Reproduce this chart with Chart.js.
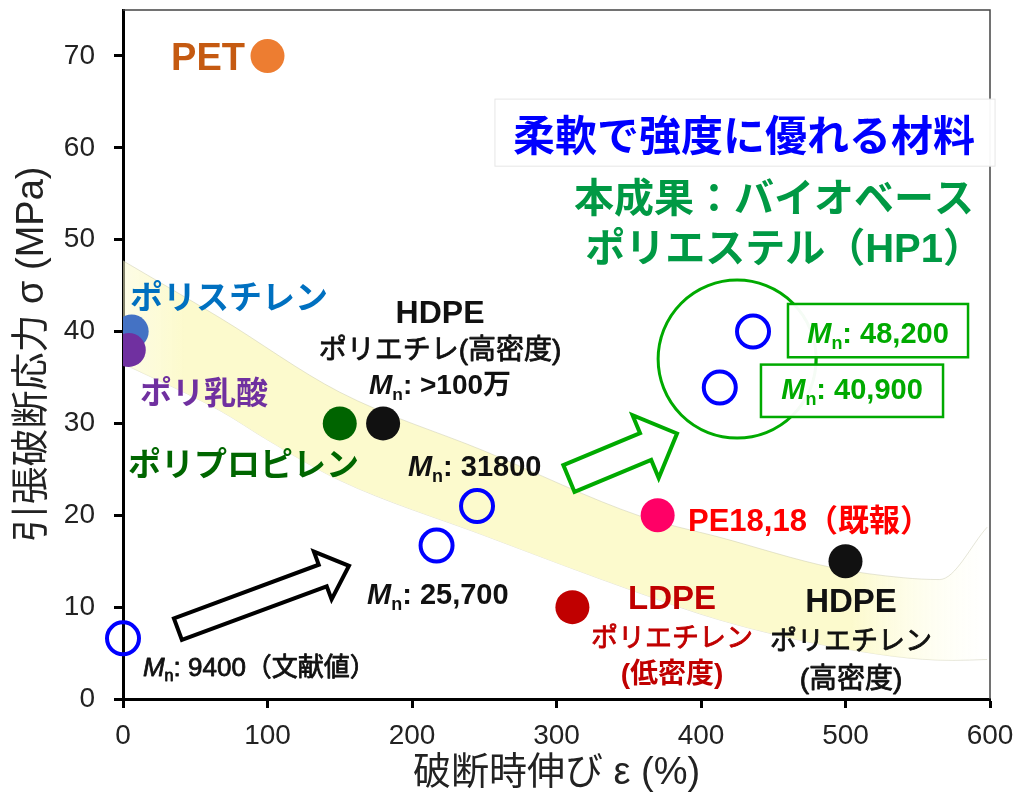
<!DOCTYPE html>
<html lang="ja">
<head>
<meta charset="utf-8">
<title>引張破断応力と破断時伸び</title>
<script src="https://cdn.jsdelivr.net/npm/chart.js@4.4.1/dist/chart.umd.min.js"></script>
<style>
  html, body { margin: 0; padding: 0; background: #fff; }
  #wrap { width: 1019px; height: 798px; position: relative; }
</style>
</head>
<body>
<div id="wrap"><canvas id="stressChart"></canvas></div>
<script>
const FONT = '"Liberation Sans", "Noto Sans CJK JP", sans-serif';

// tick values
const xTicks = [0, 100, 200, 300, 400, 500, 600];
const yTicks = [0, 10, 20, 30, 40, 50, 60, 70];

// reference materials (filled circles)
const materials = ['PET', 'ポリスチレン', 'ポリ乳酸', 'ポリプロピレン', 'HDPE (Mn >100万)', 'PE18,18', 'LDPE', 'HDPE'];
const matElongation = [100, 6, 4, 150, 180, 370, 311, 500];
const matStrength = [70, 40, 38, 30, 30, 20, 10, 15];
const matColors = ['#ed7d31', '#4472c4', '#7030a0', '#006400', '#111111', '#ff0066', '#c00000', '#111111'];

// HP1 bio-based polyester (open circles)
const hp1Mn = ['9400', '25,700', '31800', '40,900', '48,200'];
const hp1Elongation = [0, 217, 245, 413, 436];
const hp1Strength = [6.6, 16.7, 21.0, 33.9, 40.0];

// green ring round the two best samples
const groupCenter = [{ x: 425, y: 37 }];

// yellow trend band
const bandUpperX = [0, 67, 150, 250, 358, 413, 491, 540, 565, 598];
const bandUpperY = [47.7, 41.5, 33.4, 27.0, 19.9, 17.6, 14.3, 13.2, 13.0, 18.7];
const bandLowerX = [0, 67, 100, 150, 250, 358, 413, 491, 574, 598];
const bandLowerY = [36.5, 31.4, 28.2, 23.8, 17.8, 11.5, 8.6, 5.7, 4.2, 4.3];

const toPts = (xs, ys) => xs.map((x, i) => ({ x: x, y: ys[i] }));

// annotations: text runs placed at data coordinates ('med' = regular + thin stroke)
const M = (rest) => [{ t: 'M', i: true }, { t: 'n', s: true }, { t: rest }];
const notes = [
  { runs: [{ t: 'PET' }], x: 84.4, y: 70, size: 38, w: 'bold', c: '#c55a11', a: 'right' },
  { runs: [{ t: 'ポリスチレン' }], x: 4.8, y: 43.7, size: 33, w: 'bold', c: '#0070c0', a: 'left' },
  { runs: [{ t: 'ポリ乳酸' }], x: 11.8, y: 33.4, size: 32, w: 'bold', c: '#7030a0', a: 'left' },
  { runs: [{ t: 'ポリプロピレン' }], x: 3.5, y: 25.6, size: 33, w: 'bold', c: '#006600', a: 'left' },
  { runs: [{ t: 'HDPE' }], x: 219.4, y: 42.2, size: 32, w: 'bold', c: '#111', a: 'center' },
  { runs: [{ t: 'ポリエチレ(高密度)' }], x: 219.4, y: 38.1, size: 28, w: 'med', c: '#111', a: 'center' },
  { runs: M(': >100万'), x: 219.4, y: 34.3, size: 28, w: 'bold', c: '#111', a: 'center' },
  { runs: M(': ' + hp1Mn[2]), x: 197.2, y: 25.4, size: 29, w: 'bold', c: '#111', a: 'left' },
  { runs: M(': ' + hp1Mn[1]), x: 168.9, y: 11.5, size: 29, w: 'bold', c: '#111', a: 'left' },
  { runs: M(': ' + hp1Mn[0] + '（文献値）'), x: 13.8, y: 3.5, size: 26, w: 'med', c: '#111', a: 'left' },
  { runs: [{ t: '柔軟で強度に優れる材料' }], x: 429.8, y: 61.3, size: 42, w: 'bold', c: '#0000ff', a: 'center' },
  { runs: [{ t: '本成果：バイオベース' }], x: 450.5, y: 54.6, size: 40, w: 'bold', c: '#009944', a: 'center' },
  { runs: [{ t: 'ポリエステル（HP1）' }], x: 457.5, y: 49.1, size: 40, w: 'bold', c: '#009944', a: 'center' },
  { runs: [{ t: 'PE18,18（既報）' }], x: 391, y: 19.5, size: 31, w: 'bold', c: '#ff0000', a: 'left' },
  { runs: [{ t: 'LDPE' }], x: 380, y: 11.1, size: 33, w: 'bold', c: '#c00000', a: 'center' },
  { runs: [{ t: 'ポリエチレン' }], x: 380, y: 6.7, size: 27, w: 'med', c: '#c00000', a: 'center' },
  { runs: [{ t: '(低密度)' }], x: 380, y: 2.8, size: 28, w: 'bold', c: '#c00000', a: 'center' },
  { runs: [{ t: 'HDPE' }], x: 503.8, y: 10.8, size: 33, w: 'bold', c: '#111', a: 'center' },
  { runs: [{ t: 'ポリエチレン' }], x: 503.8, y: 6.4, size: 27, w: 'med', c: '#111', a: 'center' },
  { runs: [{ t: '(高密度)' }], x: 503.8, y: 2.3, size: 28, w: 'med', c: '#111', a: 'center' },
  { runs: M(': ' + hp1Mn[4]), x: 522.5, y: 39.9, size: 29, w: 'bold', c: '#00aa00', a: 'center' },
  { runs: M(': ' + hp1Mn[3]), x: 504.5, y: 33.8, size: 29, w: 'bold', c: '#00aa00', a: 'center' }
];

// boxes (data coords: x0, x1, y0, y1)
const boxes = [
  { x0: 257.4, x1: 603.5, y0: 65.3, y1: 58.0, stroke: '#e6e6e6', lw: 1 },
  { x0: 460.2, x1: 584.8, y0: 43.0, y1: 37.2, stroke: '#00aa00', lw: 2.5 },
  { x0: 441.5, x1: 567.5, y0: 36.4, y1: 30.7, stroke: '#00aa00', lw: 2.5 }
];

// hollow arrows
const arrows = [
  { x0: 38, y0: 7.6, x1: 156.4, y1: 14.5, shaft: 23, head: 51, len: 28, c: '#000' },
  { x0: 308.6, y0: 24.0, x1: 383.4, y1: 28.9, shaft: 29, head: 68, len: 34, c: '#00aa00' }
];

function drawRuns(ctx, n, px, py) {
  const weight = n.w === 'med' ? 'normal' : n.w;
  const fontFor = (r) => (r.i ? 'italic ' : '') + weight + ' ' + (r.s ? n.size * 0.62 : n.size) + 'px ' + FONT;
  let total = 0;
  const widths = n.runs.map(r => { ctx.font = fontFor(r); const w = ctx.measureText(r.t).width; total += w; return w; });
  let x = n.a === 'left' ? px : n.a === 'right' ? px - total : px - total / 2;
  const base = py + n.size * 0.36;
  ctx.fillStyle = n.c;
  ctx.strokeStyle = n.c;
  ctx.lineWidth = 0.8;
  ctx.lineJoin = 'round';
  ctx.textAlign = 'left';
  ctx.textBaseline = 'alphabetic';
  n.runs.forEach((r, i) => {
    ctx.font = fontFor(r);
    const yy = r.s ? base + n.size * 0.2 : base;
    ctx.fillText(r.t, x, yy);
    if (n.w === 'med') ctx.strokeText(r.t, x, yy);
    x += widths[i];
  });
}

function drawArrow(ctx, ar, xs, ys) {
  const ax = xs.getPixelForValue(ar.x0), ay = ys.getPixelForValue(ar.y0);
  const bx = xs.getPixelForValue(ar.x1), by = ys.getPixelForValue(ar.y1);
  const L = Math.hypot(bx - ax, by - ay);
  const ux = (bx - ax) / L, uy = (by - ay) / L;
  const nx = -uy, ny = ux;
  const hx = bx - ux * ar.len, hy = by - uy * ar.len;
  const s = ar.shaft / 2, h = ar.head / 2;
  ctx.beginPath();
  ctx.moveTo(ax + nx * s, ay + ny * s);
  ctx.lineTo(hx + nx * s, hy + ny * s);
  ctx.lineTo(hx + nx * h, hy + ny * h);
  ctx.lineTo(bx, by);
  ctx.lineTo(hx - nx * h, hy - ny * h);
  ctx.lineTo(hx - nx * s, hy - ny * s);
  ctx.lineTo(ax - nx * s, ay - ny * s);
  ctx.closePath();
  ctx.fillStyle = '#fff';
  ctx.fill();
  ctx.lineWidth = 4;
  ctx.lineJoin = 'miter';
  ctx.strokeStyle = ar.c;
  ctx.stroke();
}

const overlay = {
  id: 'overlay',
  beforeDatasetsDraw(chart) {
    const { ctx, chartArea: a } = chart;
    ctx.save();
    ctx.strokeStyle = '#444';
    ctx.lineWidth = 1.5;
    ctx.beginPath();
    ctx.moveTo(a.left, a.top);
    ctx.lineTo(a.right, a.top);
    ctx.lineTo(a.right, a.bottom);
    ctx.stroke();
    ctx.restore();
  },
  afterDatasetsDraw(chart) {
    const { ctx } = chart;
    const xs = chart.scales.x, ys = chart.scales.y;
    ctx.save();
    arrows.forEach(ar => drawArrow(ctx, ar, xs, ys));
    // connector between the two Mn boxes
    ctx.strokeStyle = '#00aa00';
    ctx.lineWidth = 2.5;
    ctx.beginPath();
    ctx.moveTo(xs.getPixelForValue(479.6), ys.getPixelForValue(37.2));
    ctx.lineTo(xs.getPixelForValue(479.6), ys.getPixelForValue(36.4));
    ctx.stroke();
    boxes.forEach(b => {
      const x0 = xs.getPixelForValue(b.x0), x1 = xs.getPixelForValue(b.x1);
      const y0 = ys.getPixelForValue(b.y0), y1 = ys.getPixelForValue(b.y1);
      ctx.fillStyle = 'rgba(255,255,255,0.96)';
      ctx.fillRect(x0, y0, x1 - x0, y1 - y0);
      ctx.strokeStyle = b.stroke;
      ctx.lineWidth = b.lw;
      ctx.strokeRect(x0, y0, x1 - x0, y1 - y0);
    });
    notes.forEach(n => drawRuns(ctx, n, xs.getPixelForValue(n.x), ys.getPixelForValue(n.y)));
    ctx.restore();
  }
};

const bandFill = (c) => {
  const ch = c.chart, a = ch.chartArea;
  if (!a) return 'rgba(252,250,205,1)';
  const g = ch.ctx.createLinearGradient(a.left, 0, a.right, 0);
  g.addColorStop(0, 'rgba(252,250,205,0.5)');
  g.addColorStop(0.07, 'rgba(252,250,205,1)');
  g.addColorStop(0.84, 'rgba(252,250,205,1)');
  g.addColorStop(1, 'rgba(255,255,235,0)');
  return g;
};

const ctx = document.getElementById('stressChart').getContext('2d');
new Chart(ctx, {
  type: 'scatter',
  data: {
    datasets: [
      {
        label: materials.join(', '),
        data: toPts(matElongation, matStrength),
        backgroundColor: matColors,
        borderWidth: 0,
        pointRadius: 17,
        order: 1
      },
      {
        label: 'HP1',
        data: toPts(hp1Elongation, hp1Strength),
        backgroundColor: 'rgba(255,255,255,0)',
        borderColor: '#0000ff',
        borderWidth: 4,
        pointRadius: 16,
        clip: false,
        order: 2
      },
      {
        label: 'group',
        data: groupCenter,
        backgroundColor: 'rgba(255,255,255,0)',
        borderColor: '#00aa00',
        borderWidth: 3,
        pointRadius: 79,
        order: 3
      },
      {
        label: 'band upper',
        data: toPts(bandUpperX, bandUpperY),
        showLine: true,
        pointRadius: 0,
        borderColor: 'rgba(190,190,160,0.5)',
        borderWidth: 0.8,
        cubicInterpolationMode: 'monotone',
        backgroundColor: bandFill,
        fill: '+1',
        order: 10
      },
      {
        label: 'band lower',
        data: toPts(bandLowerX, bandLowerY),
        showLine: true,
        pointRadius: 0,
        borderColor: 'rgba(190,190,160,0.5)',
        borderWidth: 0.8,
        cubicInterpolationMode: 'monotone',
        fill: false,
        order: 11
      }
    ]
  },
  options: {
    responsive: true,
    maintainAspectRatio: false,
    animation: false,
    events: [],
    layout: { autoPadding: false, padding: { left: 0, top: 10, right: 29, bottom: 0 } },
    plugins: { legend: { display: false }, tooltip: { enabled: false } },
    scales: {
      x: {
        type: 'linear',
        min: 0,
        max: 600,
        afterBuildTicks: s => { s.ticks = xTicks.map(v => ({ value: v })); },
        afterFit: s => { s.height = 99; s.paddingLeft = 0; s.paddingRight = 0; },
        border: { display: true, color: '#000', width: 3 },
        grid: { drawOnChartArea: false, drawTicks: true, tickLength: 9, tickWidth: 3, tickColor: '#000' },
        ticks: { color: '#222', font: { family: FONT, size: 28 }, padding: 11, maxRotation: 0 },
        title: { display: true, text: '破断時伸び ε (%)', color: '#222', font: { family: FONT, size: 38 }, padding: { top: 0, bottom: 2 } }
      },
      y: {
        type: 'linear',
        min: 0,
        max: 75,
        afterBuildTicks: s => { s.ticks = yTicks.map(v => ({ value: v })); },
        afterFit: s => { s.width = 123; s.paddingTop = 0; s.paddingBottom = 0; },
        border: { display: true, color: '#000', width: 3 },
        grid: { drawOnChartArea: false, drawTicks: true, tickLength: 9, tickWidth: 3, tickColor: '#000' },
        ticks: { color: '#222', font: { family: FONT, size: 28 }, padding: 19 },
        title: { display: true, text: '引張破断応力 σ (MPa)', color: '#222', font: { family: FONT, size: 38 }, padding: { top: 10, bottom: 0 } }
      }
    }
  },
  plugins: [overlay]
});
</script>
</body>
</html>
